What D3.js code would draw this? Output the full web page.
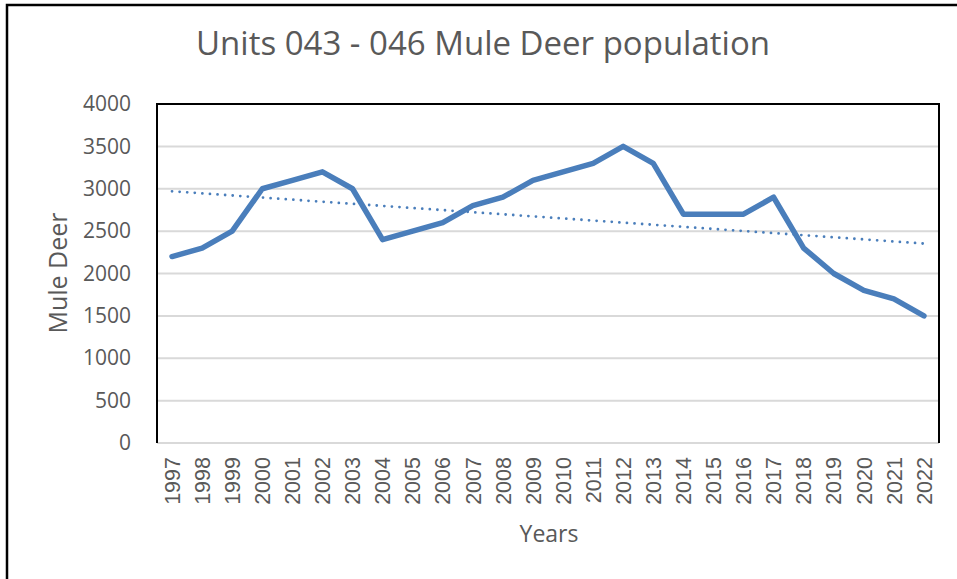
<!DOCTYPE html>
<html>
<head>
<meta charset="utf-8">
<script src="https://cdn.jsdelivr.net/npm/d3@7"></script>
<style>
  body { margin: 0; background: #fff; }
  text { font-family: "Open Sans", "Noto Sans", sans-serif; fill: #595959; }
</style>
</head>
<body>
<script>
// data
const years = ["1997","1998","1999","2000","2001","2002","2003","2004","2005","2006","2007","2008","2009",
               "2010","2011","2012","2013","2014","2015","2016","2017","2018","2019","2020","2021","2022"];
const deer = [2200, 2300, 2500, 3000, 3100, 3200, 3000, 2400, 2500, 2600, 2800, 2900, 3100,
              3200, 3300, 3500, 3300, 2700, 2700, 2700, 2900, 2300, 2000, 1800, 1700, 1500];
const yTicks = [0, 500, 1000, 1500, 2000, 2500, 3000, 3500, 4000];

const W = 957, H = 579;
const plot = { left: 157, top: 104, right: 939, bottom: 443 };

const svg = d3.select("body").append("svg")
    .attr("width", W)
    .attr("height", H);

// outer chart frame (only top & left visible in the crop)
svg.append("path")
    .attr("d", `M7,${H + 5} L7,5 L${W + 5},5`)
    .attr("fill", "none")
    .attr("stroke", "#000")
    .attr("stroke-width", 2.5);

var x = d3.scaleBand().domain(years).range([plot.left, plot.right]);
var y = d3.scaleLinear().domain([0, 4000]).range([plot.bottom, plot.top]);
const cx = d => x(d) + x.bandwidth() / 2;

// gridlines
svg.append("g").selectAll("line")
    .data(yTicks.filter(t => t > 0 && t < 4000))
    .join("line")
    .attr("x1", plot.left).attr("x2", plot.right)
    .attr("y1", d => y(d)).attr("y2", d => y(d))
    .attr("stroke", "#d9d9d9").attr("stroke-width", 2);

// bottom axis line
svg.append("line")
    .attr("x1", plot.left).attr("x2", plot.right)
    .attr("y1", plot.bottom).attr("y2", plot.bottom)
    .attr("stroke", "#d9d9d9").attr("stroke-width", 2);

// plot border: left, top, right in black
svg.append("path")
    .attr("d", `M${plot.left},${plot.bottom} L${plot.left},${plot.top} L${plot.right},${plot.top} L${plot.right},${plot.bottom}`)
    .attr("fill", "none")
    .attr("stroke", "#000")
    .attr("stroke-width", 2);

// y axis labels
var yAxis = d3.axisLeft(y).tickValues(yTicks).tickFormat(d3.format("d")).tickSize(0).tickPadding(26);
var gy = svg.append("g").attr("transform", `translate(${plot.left},0)`).call(yAxis);
gy.select(".domain").remove();
gy.selectAll("text")
    .style("font-family", '"Open Sans", sans-serif')
    .style("font-size", "21px")
    .attr("fill", "#595959");

// x axis labels, rotated
var xAxis = d3.axisBottom(x).tickSize(0).tickPadding(0);
var gx = svg.append("g").attr("transform", `translate(0,${plot.bottom})`).call(xAxis);
gx.select(".domain").remove();
gx.selectAll("text")
    .style("font-family", '"Liberation Sans", Arial, sans-serif')
    .style("font-size", "21.5px")
    .attr("fill", "#595959")
    .attr("text-anchor", "end")
    .attr("dy", "0.36em")
    .attr("transform", "translate(0,14) rotate(-90)")
    .attr("x", 0).attr("y", 0);

// linear trend computed from the series
const n = deer.length;
const idx = d3.range(n);
const mx = d3.mean(idx), my = d3.mean(deer);
const slope = d3.sum(idx, i => (i - mx) * (deer[i] - my)) / d3.sum(idx, i => (i - mx) * (i - mx));
const icpt = my - slope * mx;

svg.append("line")
    .attr("x1", cx(years[0])).attr("y1", y(icpt))
    .attr("x2", cx(years[n - 1])).attr("y2", y(icpt + slope * (n - 1)))
    .attr("stroke", "#4a7ebb")
    .attr("stroke-width", 2.8)
    .attr("stroke-linecap", "round")
    .attr("stroke-dasharray", "0,7.6");

// population line
var line = d3.line().x((d, i) => cx(years[i])).y(d => y(d));
svg.append("path")
    .datum(deer)
    .attr("d", line)
    .attr("fill", "none")
    .attr("stroke", "#4a7ebb")
    .attr("stroke-width", 5.5)
    .attr("stroke-linejoin", "round")
    .attr("stroke-linecap", "round");

// title
svg.append("text")
    .attr("x", 483).attr("y", 55)
    .attr("text-anchor", "middle")
    .style("font-size", "33px")
    .text("Units 043 - 046 Mule Deer population");

// axis titles
svg.append("text")
    .attr("x", 549).attr("y", 542)
    .attr("text-anchor", "middle")
    .style("font-size", "23px")
    .text("Years");

svg.append("text")
    .attr("transform", "translate(67,273) rotate(-90)")
    .attr("text-anchor", "middle")
    .style("font-size", "25px")
    .text("Mule Deer");
</script>
</body>
</html>
